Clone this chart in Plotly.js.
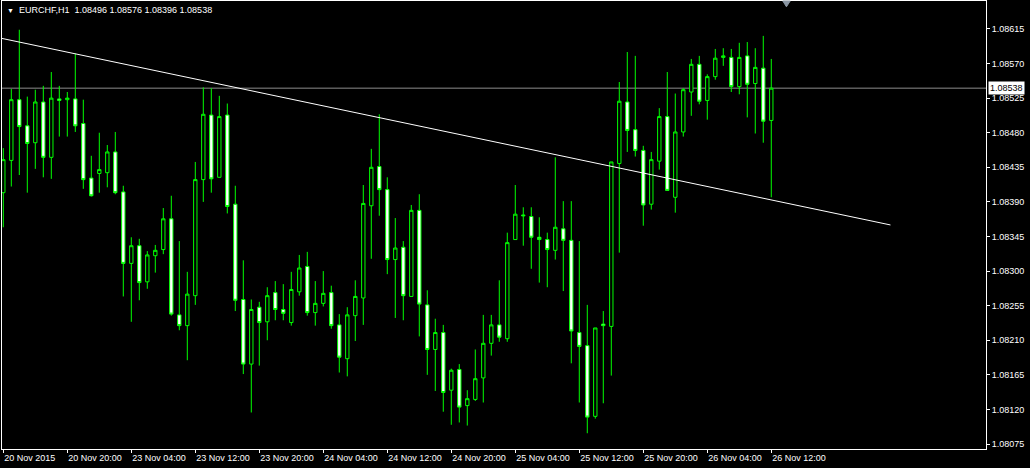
<!DOCTYPE html>
<html>
<head>
<meta charset="utf-8">
<script src="https://cdn.plot.ly/plotly-3.0.1.min.js"></script>
<style>
  html, body { margin: 0; padding: 0; background: #000; }
  #chart { width: 1030px; height: 468px; }
</style>
</head>
<body>
<div id="chart"></div>
<script>
// ---- Data (EURCHF, H1) ----
const symbol = "EURCHF,H1";

const opens = [
  1.08402, 1.08444, 1.08523, 1.08489, 1.08467, 1.08520, 1.08448, 1.08524, 1.08523, 1.08524,
  1.08492, 1.08421, 1.08427, 1.08428, 1.08455, 1.08403, 1.08310, 1.08333, 1.08286, 1.08320,
  1.08328, 1.08368, 1.08243, 1.08229, 1.08268, 1.08419, 1.08503, 1.08422, 1.08503, 1.08387,
  1.08263, 1.08179, 1.08253, 1.08234, 1.08272, 1.08250, 1.08233, 1.08273, 1.08306, 1.08246,
  1.08258, 1.08272, 1.08230, 1.08186, 1.08242, 1.08265, 1.08385, 1.08436, 1.08406, 1.08315,
  1.08331, 1.08267, 1.08379, 1.08256, 1.08198, 1.08220, 1.08145, 1.08172, 1.08125, 1.08133,
  1.08161, 1.08206, 1.08230, 1.08212, 1.08341, 1.08373, 1.08371, 1.08344, 1.08341, 1.08327,
  1.08355, 1.08340, 1.08220, 1.08203, 1.08111, 1.08231, 1.08228, 1.08440, 1.08520, 1.08484,
  1.08457, 1.08387, 1.08443, 1.08501, 1.08396, 1.08481, 1.08533, 1.08569, 1.08522, 1.08553,
  1.08578, 1.08578, 1.08540, 1.08580, 1.08544, 1.08564, 1.08496
];

const highs = [
  1.08460, 1.08537, 1.08614, 1.08527, 1.08536, 1.08541, 1.08559, 1.08541, 1.08533, 1.08583,
  1.08523, 1.08450, 1.08480, 1.08464, 1.08481, 1.08411, 1.08344, 1.08342, 1.08326, 1.08334,
  1.08382, 1.08398, 1.08339, 1.08299, 1.08442, 1.08539, 1.08538, 1.08528, 1.08518, 1.08411,
  1.08314, 1.08263, 1.08260, 1.08279, 1.08287, 1.08283, 1.08299, 1.08321, 1.08325, 1.08287,
  1.08300, 1.08281, 1.08244, 1.08253, 1.08288, 1.08412, 1.08459, 1.08504, 1.08422, 1.08369,
  1.08339, 1.08386, 1.08400, 1.08275, 1.08238, 1.08230, 1.08173, 1.08179, 1.08145, 1.08198,
  1.08243, 1.08243, 1.08288, 1.08350, 1.08412, 1.08383, 1.08383, 1.08370, 1.08350, 1.08448,
  1.08391, 1.08391, 1.08339, 1.08256, 1.08226, 1.08248, 1.08442, 1.08546, 1.08585, 1.08580,
  1.08463, 1.08455, 1.08512, 1.08559, 1.08531, 1.08538, 1.08576, 1.08580, 1.08556, 1.08589,
  1.08590, 1.08589, 1.08597, 1.08598, 1.08590, 1.08606, 1.08576
];

const lows = [
  1.08357, 1.08410, 1.08425, 1.08402, 1.08433, 1.08422, 1.08420, 1.08475, 1.08475, 1.08481,
  1.08407, 1.08397, 1.08402, 1.08409, 1.08400, 1.08267, 1.08234, 1.08262, 1.08277, 1.08298,
  1.08322, 1.08242, 1.08223, 1.08184, 1.08256, 1.08390, 1.08402, 1.08422, 1.08375, 1.08248,
  1.08166, 1.08116, 1.08177, 1.08210, 1.08236, 1.08236, 1.08229, 1.08268, 1.08242, 1.08229,
  1.08254, 1.08225, 1.08168, 1.08163, 1.08209, 1.08230, 1.08316, 1.08372, 1.08296, 1.08239,
  1.08236, 1.08267, 1.08215, 1.08165, 1.08144, 1.08117, 1.08100, 1.08103, 1.08099, 1.08131,
  1.08129, 1.08190, 1.08208, 1.08208, 1.08341, 1.08333, 1.08303, 1.08285, 1.08279, 1.08315,
  1.08274, 1.08180, 1.08129, 1.08089, 1.08108, 1.08128, 1.08164, 1.08324, 1.08455, 1.08449,
  1.08359, 1.08380, 1.08432, 1.08405, 1.08376, 1.08475, 1.08502, 1.08517, 1.08497, 1.08549,
  1.08567, 1.08533, 1.08530, 1.08500, 1.08479, 1.08467, 1.08396
];

const closes = [
  1.08445, 1.08523, 1.08488, 1.08466, 1.08520, 1.08448, 1.08525, 1.08522, 1.08525, 1.08489,
  1.08419, 1.08398, 1.08432, 1.08455, 1.08402, 1.08310, 1.08333, 1.08285, 1.08321, 1.08327,
  1.08368, 1.08244, 1.08229, 1.08270, 1.08419, 1.08504, 1.08420, 1.08501, 1.08384, 1.08262,
  1.08179, 1.08250, 1.08233, 1.08268, 1.08250, 1.08245, 1.08276, 1.08304, 1.08246, 1.08258,
  1.08271, 1.08229, 1.08188, 1.08243, 1.08267, 1.08388, 1.08435, 1.08406, 1.08315, 1.08330,
  1.08268, 1.08379, 1.08257, 1.08198, 1.08220, 1.08142, 1.08171, 1.08123, 1.08134, 1.08160,
  1.08206, 1.08230, 1.08214, 1.08337, 1.08374, 1.08372, 1.08344, 1.08341, 1.08328, 1.08357,
  1.08340, 1.08222, 1.08202, 1.08110, 1.08226, 1.08229, 1.08442, 1.08521, 1.08483, 1.08457,
  1.08386, 1.08445, 1.08501, 1.08405, 1.08481, 1.08536, 1.08569, 1.08521, 1.08553, 1.08577,
  1.08580, 1.08540, 1.08578, 1.08543, 1.08565, 1.08495, 1.08538
];

const timeTickBars = [0, 8, 16, 24, 32, 40, 48, 56, 64, 72, 80, 88, 96];
const timeTickLabels = [
  "20 Nov 2015", "20 Nov 20:00", "23 Nov 04:00", "23 Nov 12:00", "23 Nov 20:00",
  "24 Nov 04:00", "24 Nov 12:00", "24 Nov 20:00", "25 Nov 04:00", "25 Nov 12:00",
  "25 Nov 20:00", "26 Nov 04:00", "26 Nov 12:00"
];

const priceTicks = [1.08075, 1.08120, 1.08165, 1.08210, 1.08255, 1.08300, 1.08345,
                    1.08390, 1.08435, 1.08480, 1.08525, 1.08570, 1.08615];

// Trend line anchors (bar index, price)
const trendBars = [-0.3, 110.9];
const trendPrices = [1.08603, 1.08360];

// ---- Build chart ----
const barIndex = opens.map((_, i) => i);
const n = closes.length;
const lastO = opens[n - 1], lastH = highs[n - 1], lastL = lows[n - 1], lastC = closes[n - 1];

const FONT = "Liberation Sans, Arial, sans-serif";

const candles = {
  type: "candlestick",
  x: barIndex, open: opens, high: highs, low: lows, close: closes,
  increasing: { line: { color: "#00ff00", width: 1 }, fillcolor: "#000000" },
  decreasing: { line: { color: "#00ff00", width: 1 }, fillcolor: "#ffffff" },
  whiskerwidth: 0,
  hoverinfo: "skip",
  showlegend: false
};

const trend = {
  type: "scatter", mode: "lines",
  x: trendBars, y: trendPrices,
  line: { color: "#ffffff", width: 1 },
  hoverinfo: "skip", showlegend: false
};

const layout = {
  width: 1030, height: 468,
  margin: { l: 2, r: 44, t: 1, b: 19, pad: 0 },
  paper_bgcolor: "#000000",
  plot_bgcolor: "#000000",
  showlegend: false,
  boxgap: 0.4,
  font: { family: FONT, size: 9, color: "#ffffff" },
  xaxis: {
    range: [-0.1625, 122.84],
    tickmode: "array", tickvals: timeTickBars, ticktext: timeTickLabels,
    ticks: "outside", ticklen: 3, tickcolor: "#ffffff", tickwidth: 1,
    ticklabelposition: "outside right",
    tickfont: { family: FONT, size: 9, color: "#ffffff" },
    showgrid: false, zeroline: false,
    showline: true, linecolor: "#ffffff", linewidth: 1, mirror: true,
    rangeslider: { visible: false },
    fixedrange: true
  },
  yaxis: {
    side: "right",
    range: [1.080685, 1.086514],
    tickmode: "array", tickvals: priceTicks,
    ticktext: priceTicks.map(v => v.toFixed(5)),
    ticks: "outside", ticklen: 3, tickcolor: "#ffffff", tickwidth: 1,
    tickfont: { family: FONT, size: 9, color: "#ffffff" },
    showgrid: false, zeroline: false,
    showline: true, linecolor: "#ffffff", linewidth: 1, mirror: true,
    fixedrange: true
  },
  shapes: [
    { type: "line", xref: "paper", x0: 0, x1: 1, yref: "y", y0: lastC, y1: lastC,
      line: { color: "#8c8c8c", width: 1 }, layer: "below" },
    // chart-shift marker (small grey triangle at the top edge)
    { type: "path", xref: "paper", yref: "paper",
      path: "M 0.7935 1 L 0.8010 1 L 0.7972 0.987 Z",
      fillcolor: "#8a96a3", line: { color: "#8a96a3", width: 1 } }
  ],
  annotations: [
    { xref: "paper", yref: "paper", x: 0, y: 1, xanchor: "left", yanchor: "top",
      xshift: 3, yshift: -4, showarrow: false, text: "▼",
      font: { family: FONT, size: 7, color: "#ffffff" } },
    { xref: "paper", yref: "paper", x: 0, y: 1, xanchor: "left", yanchor: "top",
      xshift: 15, yshift: -2, showarrow: false,
      text: symbol + "  " + [lastO, lastH, lastL, lastC].map(v => v.toFixed(5)).join(" "),
      font: { family: FONT, size: 9, color: "#ffffff" } },
    { xref: "paper", yref: "y", x: 1, y: lastC, xanchor: "left", yanchor: "middle",
      xshift: 2, showarrow: false, text: lastC.toFixed(5),
      bgcolor: "#ffffff", borderpad: 1,
      font: { family: FONT, size: 9, color: "#000000" } }
  ]
};

Plotly.newPlot("chart", [candles, trend], layout, { staticPlot: true, displayModeBar: false });
</script>
</body>
</html>
